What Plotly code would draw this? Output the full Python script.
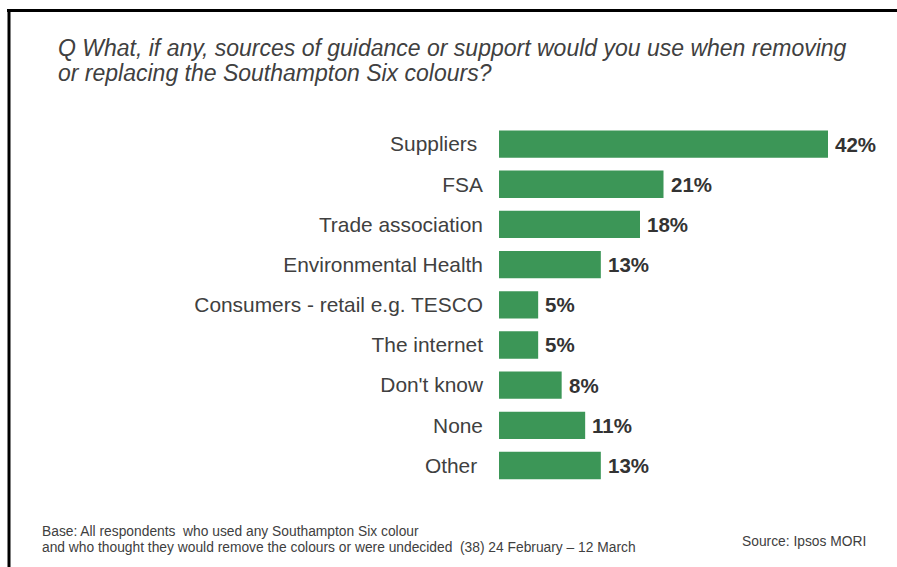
import plotly.graph_objects as go

W, H = 897, 567

categories = ["Suppliers", "FSA", "Trade association", "Environmental Health",
              "Consumers - retail e.g. TESCO", "The internet", "Don't know", "None", "Other"]
tick_labels = ["Suppliers\u00a0", "FSA", "Trade association", "Environmental Health",
               "Consumers - retail e.g. TESCO", "The internet", "Don't know", "None", "Other\u00a0"]
values = [42, 21, 18, 13, 5, 5, 8, 11, 13]

title_lines = [
    "Q What, if any, sources of guidance or support would you use when removing",
    "or replacing the Southampton Six colours?",
]
base_lines = [
    "Base: All respondents  who used any Southampton Six colour",
    "and who thought they would remove the colours or were undecided  (38) 24 February \u2013 12 March",
]
source_text = "Source: Ipsos MORI"

FONT = "Liberation Sans, Arial, sans-serif"
GREEN = "#3c9657"
TEXT = "#404040"


def px(x):
    return x / W


def py(y):
    return 1 - y / H


fig = go.Figure()
fig.add_trace(go.Bar(
    x=values,
    y=list(range(len(categories))),
    orientation="h",
    marker=dict(color=GREEN, line=dict(width=0)),
    hoverinfo="skip",
))

annotations = []
# value labels just past the end of each bar
for i, v in enumerate(values):
    annotations.append(dict(
        text=f"<b>{v}%</b>", x=v, y=i, xref="x", yref="y",
        xanchor="left", yanchor="middle", xshift=5, showarrow=False,
        font=dict(family=FONT, size=20.5, color="#333333"),
    ))
for i, line in enumerate(title_lines):
    annotations.append(dict(
        text=line, x=px(56), y=py(48 + 25 * i), xref="paper", yref="paper",
        xanchor="left", yanchor="middle", showarrow=False,
        font=dict(family=FONT, size=23, color=TEXT, style="italic"),
    ))
for i, line in enumerate(base_lines):
    annotations.append(dict(
        text=line, x=px(40), y=py(531 + 16 * i), xref="paper", yref="paper",
        xanchor="left", yanchor="middle", showarrow=False,
        font=dict(family=FONT, size=13.8, color=TEXT),
    ))
annotations.append(dict(
    text=source_text, x=px(740), y=py(541), xref="paper", yref="paper",
    xanchor="left", yanchor="middle", showarrow=False,
    font=dict(family=FONT, size=13.8, color=TEXT),
))

shapes = [
    dict(type="line", xref="paper", yref="paper", x0=px(7), x1=1, y0=py(10.5), y1=py(10.5),
         line=dict(color="black", width=3)),
    dict(type="line", xref="paper", yref="paper", x0=px(9), x1=px(9), y0=py(9), y1=0,
         line=dict(color="black", width=3)),
]

x_left = 499
px_per_unit = (828 - 499) / 42
top, bottom = 124, 485.6

fig.update_layout(
    width=W, height=H,
    margin=dict(l=0, r=0, t=0, b=0),
    paper_bgcolor="white", plot_bgcolor="white",
    showlegend=False,
    bargap=0.32,
    xaxis=dict(domain=[px(x_left), 1], range=[0, (W - x_left) / px_per_unit],
               visible=False, fixedrange=True),
    yaxis=dict(domain=[py(bottom), py(top)], range=[len(categories) - 0.5, -0.5],
               tickvals=list(range(len(categories))), ticktext=tick_labels,
               ticks="", showline=False, showgrid=False, zeroline=False,
               ticklabelstandoff=15,
               tickfont=dict(family=FONT, size=20.9, color=TEXT), fixedrange=True),
    annotations=annotations,
    shapes=shapes,
)

fig.write_html("out.html")
